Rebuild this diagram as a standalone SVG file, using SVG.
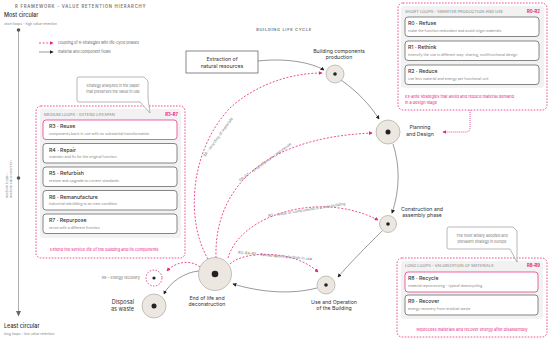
<svg xmlns="http://www.w3.org/2000/svg" width="550" height="341" viewBox="0 0 550 341">
<defs>
<style>
text{font-family:"Inter","Liberation Sans",sans-serif;}
.pk{fill:none;stroke:#e8237f;stroke-width:0.8;stroke-dasharray:2 1.6}
.fl{fill:none;stroke:#555;stroke-width:0.6}
.nc{fill:#ece7e1;stroke:#a39c95;stroke-width:0.6}
.dot{fill:#222}
.card{fill:#fff;stroke:#555;stroke-width:0.7}
.hl{stroke:#e8237f}
.grp{fill:none;stroke:#e8237f;stroke-width:0.8;stroke-dasharray:1.6 1.4}
.inner{fill:#f2f2f2}
.ct{font-size:5.2px;fill:#333;font-weight:500}
.cs{font-size:3.6px;fill:#888}
.hd{font-size:4px;fill:#888}
.rr{font-size:4.2px;fill:#e8237f;font-weight:700}
.ft{font-size:4px;fill:#e8237f}
.nl{font-size:5.2px;fill:#333;text-anchor:middle}
.al{font-size:3.8px;fill:#777}
.co{fill:#fff;stroke:#888;stroke-width:0.6}
.cot{font-size:3.7px;fill:#777;text-anchor:middle}
</style>
<marker id="ab" viewBox="0 0 6 6" refX="5" refY="3" markerWidth="4" markerHeight="4" markerUnits="userSpaceOnUse" orient="auto"><path d="M0,0 L6,3 L0,6 z" fill="#222"/></marker>
<marker id="ap" viewBox="0 0 6 6" refX="5" refY="3" markerWidth="4" markerHeight="4" markerUnits="userSpaceOnUse" orient="auto"><path d="M0,0 L6,3 L0,6 z" fill="#e8237f"/></marker>
</defs>
<rect width="550" height="341" fill="#fff"/>

<g id="axis">
<text x="15" y="8" style="font-size:4.2px;fill:#777;font-weight:600;letter-spacing:0.8px">R FRAMEWORK - VALUE RETENTION HIERARCHY</text>
<text x="4" y="17" style="font-size:5.5px;fill:#333;font-weight:500">Most circular</text>
<text x="4" y="24.5" style="font-size:3.4px;fill:#888">short loops - high value retention</text>
<line x1="18.5" y1="30" x2="18.5" y2="312" stroke="#999" stroke-width="0.8"/>
<polygon points="16,311 21,311 18.5,316.5" fill="#666"/>
<circle cx="18.5" cy="30" r="1.8" fill="#555"/>
<circle cx="18.5" cy="178" r="1.8" fill="#555"/>
<text transform="translate(8,198) rotate(-90)" style="font-size:3.4px;fill:#888">medium loops –</text>
<text transform="translate(12,198) rotate(-90)" style="font-size:3.4px;fill:#888">medium value retention</text>
<text x="4" y="328" style="font-size:5.5px;fill:#333;font-weight:500">Least circular</text>
<text x="4" y="335" style="font-size:3.4px;fill:#888">long loops - low value retention</text>
</g>

<g id="legend">
<line x1="39" y1="43" x2="53" y2="43" class="pk" marker-end="url(#ap)"/>
<text x="58" y="44.3" style="font-size:3.7px;fill:#666">coupling of R-strategies with life-cycle phases</text>
<line x1="39" y1="52" x2="53" y2="52" class="fl" marker-end="url(#ab)"/>
<text x="58" y="53.3" style="font-size:3.7px;fill:#666">material and component flows</text>
</g>

<g id="cycle-title">
<text x="284" y="30.5" text-anchor="middle" style="font-size:4px;fill:#888;font-weight:700;letter-spacing:0.7px">BUILDING LIFE CYCLE</text>
</g>

<g id="short-loops">
<rect x="398" y="3" width="149" height="107" rx="5" class="grp"/>
<rect x="401" y="6" width="143" height="82" rx="3" class="inner"/>
<text x="405" y="12.5" class="hd">SHORT LOOPS - SMARTER PRODUCTION AND USE</text>
<text x="540" y="12.5" class="rr" text-anchor="end">R0–R2</text>
<g id="r0"><rect x="405" y="17" width="134" height="19.5" rx="3" class="card"/><text x="408" y="25" class="ct">R0 · Refuse</text><text x="408" y="31.5" class="cs">make the function redundant and avoid virgin materials</text></g>
<g id="r1"><rect x="405" y="41" width="134" height="19.5" rx="3" class="card"/><text x="408" y="49" class="ct">R1 · Rethink</text><text x="408" y="55.5" class="cs">intensify the use in different way: sharing, multifunctional design</text></g>
<g id="r2"><rect x="405" y="65" width="134" height="19.5" rx="3" class="card"/><text x="408" y="73" class="ct">R2 · Reduce</text><text x="408" y="79.5" class="cs">use less material and energy per functional unit</text></g>
<text x="405" y="98" class="ft">Ex-ante strategies that avoid and reduce material demand</text>
<text x="405" y="103.5" class="ft">in a design stage</text>
</g>

<g id="medium-loops">
<rect x="36" y="106" width="149" height="152" rx="5" class="grp"/>
<rect x="40" y="109" width="141" height="129" rx="3" class="inner"/>
<text x="44" y="115.5" class="hd">MEDIUM LOOPS - EXTEND LIFESPAN</text>
<text x="178" y="115.5" class="rr" text-anchor="end">R3–R7</text>
<g id="r3"><rect x="43" y="120" width="134" height="19.5" rx="3" class="card hl"/><text x="49" y="128" class="ct">R3 · Reuse</text><text x="49" y="134.5" class="cs">components back in use with no substantial transformation</text></g>
<g id="r4"><rect x="43" y="143.5" width="134" height="19.5" rx="3" class="card"/><text x="49" y="151.5" class="ct">R4 · Repair</text><text x="49" y="158" class="cs">maintain and fix for the original function</text></g>
<g id="r5"><rect x="43" y="167" width="134" height="19.5" rx="3" class="card"/><text x="49" y="175" class="ct">R5 · Refurbish</text><text x="49" y="181.5" class="cs">restore and upgrade to current standards</text></g>
<g id="r6"><rect x="43" y="190.5" width="134" height="19.5" rx="3" class="card"/><text x="49" y="198.5" class="ct">R6 · Remanufacture</text><text x="49" y="205" class="cs">industrial rebuilding to as-new condition</text></g>
<g id="r7"><rect x="43" y="214" width="134" height="19.5" rx="3" class="card"/><text x="49" y="222" class="ct">R7 · Repurpose</text><text x="49" y="228.5" class="cs">reuse with a different function</text></g>
<text x="50" y="250.5" class="ft">Extend the service life of the building and its components</text>
</g>

<g id="long-loops">
<rect x="397" y="258" width="150" height="79" rx="5" class="grp"/>
<rect x="401" y="261" width="142" height="58" rx="3" class="inner"/>
<text x="405" y="266.5" class="hd">LONG LOOPS - VALORIZATION OF MATERIALS</text>
<text x="540" y="266.5" class="rr" text-anchor="end">R8–R9</text>
<g id="r8"><rect x="405" y="272" width="133" height="20" rx="3" class="card hl"/><text x="408" y="280" class="ct">R8 · Recycle</text><text x="408" y="286.5" class="cs">material reprocessing - typical downcycling</text></g>
<g id="r9"><rect x="405" y="295" width="133" height="20" rx="3" class="card"/><text x="408" y="303" class="ct">R9 · Recover</text><text x="408" y="309.5" class="cs">energy recovery from residual waste</text></g>
<text x="472" y="330.5" class="ft" text-anchor="middle">Reprocess materials and recover energy after disassembly</text>
</g>

<g id="callout-paper">
<path d="M79,77 H144 L148,81 V98 L150,113 L140,102 H79 Q77,102 77,100 V79 Q77,77 79,77 Z" class="co"/>
<text x="113" y="87" class="cot">Strategy analyzed in the paper</text>
<text x="113" y="93" class="cot">that preserves the value in use</text>
</g>

<g id="callout-europe">
<path d="M449,227 H513 L517,231 V246 L517,262 L510,249 H449 Q447,249 447,247 V229 Q447,227 449,227 Z" class="co"/>
<text x="482" y="237" class="cot">The most widely adopted and</text>
<text x="482" y="243" class="cot">prevalent strategy in Europe</text>
</g>

<g id="connectors">
<path d="M258,61 C285,58 310,62 324,70" class="fl" marker-end="url(#ab)"/>
<path d="M341,80 C358,92 370,105 379,119" class="fl" marker-end="url(#ab)"/>
<path d="M393,144 C400,165 400,190 392,213" class="fl" marker-end="url(#ab)"/>
<path d="M382,231 C365,248 350,263 338,277" class="fl" marker-end="url(#ab)"/>
<path d="M317,288 C290,295 260,292 233,284" class="fl" marker-end="url(#ab)"/>
<path d="M199,271 C185,272 170,282 164,294" class="fl" marker-end="url(#ab)"/>
<path d="M208,259 C185,220 190,150 230,108 C255,85 290,73 322,73" class="pk" marker-end="url(#ap)"/>
<path d="M216,258 C214,195 255,138 372,133" class="pk" marker-end="url(#ap)"/>
<path d="M228,258 C240,215 320,190 378,220" class="pk" marker-end="url(#ap)"/>
<path d="M230,264 C245,250 295,250 318,272" class="pk" marker-end="url(#ap)"/>
<path d="M200,267 C190,259 175,262 167,271" class="pk" marker-end="url(#ap)"/>
<path d="M470,110 V128 Q470,132 466,132 H443" class="pk" style="stroke-dasharray:1 1" marker-end="url(#ap)"/>
<text transform="translate(219,138) rotate(-54)" class="al" text-anchor="middle">R8 - recycling of materials</text>
<text transform="translate(266,163) rotate(-36)" class="al" text-anchor="middle">R6–R7 - remanufacture / repurpose</text>
<text transform="translate(307,211) rotate(-9)" class="al" text-anchor="middle">R3 - reuse of components in a new building</text>
<text transform="translate(275,257) rotate(5)" class="al" text-anchor="middle">R3–R4–R5 - Reuse/repair/refurbish in use</text>
</g>

<g id="extraction">
<rect x="186" y="51" width="72" height="22" fill="#fff" stroke="#555" stroke-width="0.7"/>
<text x="222" y="61" class="nl">Extraction of</text>
<text x="222" y="67.5" class="nl">natural resources</text>
</g>

<g id="production">
<circle cx="335" cy="74" r="9" class="nc"/><circle cx="335" cy="74" r="1.8" class="dot"/>
<text x="339" y="52.5" class="nl">Building components</text>
<text x="339" y="59" class="nl">production</text>
</g>

<g id="planning">
<circle cx="388" cy="132" r="12" class="nc"/><circle cx="388" cy="132" r="2.5" class="dot"/>
<text x="420" y="129" class="nl">Planning</text>
<text x="420" y="135.5" class="nl">and Design</text>
</g>

<g id="construction">
<circle cx="388" cy="224" r="8.5" class="nc"/><circle cx="388" cy="224" r="1.8" class="dot"/>
<text x="422" y="210.5" class="nl">Construction and</text>
<text x="422" y="217" class="nl">assembly phase</text>
</g>

<g id="use">
<circle cx="326" cy="285" r="9" class="nc"/><circle cx="326" cy="285" r="1.8" class="dot"/>
<text x="334" y="303.5" class="nl">Use and Operation</text>
<text x="334" y="310" class="nl">of the Building</text>
</g>

<g id="end-of-life">
<circle cx="215" cy="274" r="16.5" class="nc"/><circle cx="215" cy="274" r="3.3" class="dot"/>
<text x="207" y="299.5" class="nl">End of life and</text>
<text x="207" y="306" class="nl">deconstruction</text>
</g>

<g id="disposal">
<circle cx="154" cy="306" r="12" class="nc"/><circle cx="154" cy="306" r="2.5" class="dot"/>
<text x="134" y="304" style="font-size:5.5px;fill:#333;text-anchor:end">Disposal</text>
<text x="134" y="310.5" style="font-size:5.5px;fill:#333;text-anchor:end">as waste</text>
</g>

<g id="energy-recovery">
<circle cx="154" cy="278" r="8" fill="#fff" stroke="#e8237f" stroke-width="0.8" stroke-dasharray="1.6 1.4"/>
<circle cx="154" cy="278" r="1.6" class="dot"/>
<text x="140" y="279.3" style="font-size:3.8px;fill:#777;text-anchor:end">R9 – Energy recovery</text>
</g>
</svg>
